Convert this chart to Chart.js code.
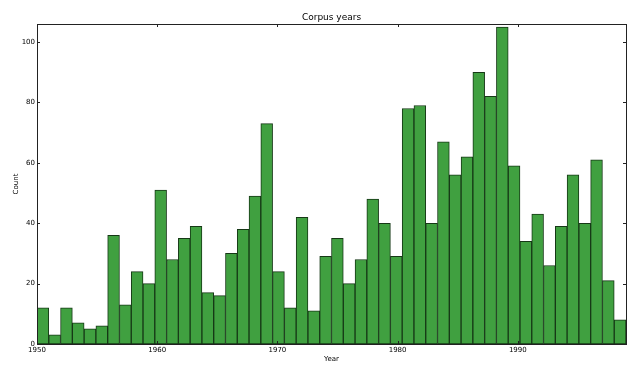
<!DOCTYPE html>
<html>
<head>
<meta charset="utf-8">
<script src="https://cdn.jsdelivr.net/npm/chart.js@4/dist/chart.umd.min.js"></script>
<style>
  html, body { margin: 0; padding: 0; background: #fff; }
  #wrap { width: 640px; height: 377px; }
</style>
</head>
<body>
<div id="wrap"><canvas id="chart"></canvas></div>
<script>
// Histograma: 50 intervalos entre 1950 y 1999
const binStart = 1950;
const binEnd = 1999;
const counts = [12, 3, 12, 7, 5, 6, 36, 13, 24, 20,
                51, 28, 35, 39, 17, 16, 30, 38, 49, 73,
                24, 12, 42, 11, 29, 35, 20, 28, 48, 40,
                29, 78, 79, 40, 67, 56, 62, 90, 82, 105,
                59, 34, 43, 26, 39, 56, 40, 61, 21, 8];
const xTicks = [1950, 1960, 1970, 1980, 1990];
const yTicks = [0, 20, 40, 60, 80, 100];

// ancho de cada intervalo
const binWidth = (binEnd - binStart) / counts.length;
const points = counts.map((c, i) => ({ x: binStart + binWidth * (i + 0.5), y: c }));

const font = "DejaVu Sans";

// Marcas hacia dentro en los cuatro lados, el marco y el título
const framePlugin = {
  id: 'frame',
  afterDraw(chart) {
    const ctx = chart.ctx;
    const a = chart.chartArea;
    const xs = chart.scales.x, ys = chart.scales.y;
    ctx.save();
    ctx.strokeStyle = '#222';
    ctx.lineWidth = 1;
    ctx.beginPath();
    xTicks.forEach(v => {
      const px = Math.round(xs.getPixelForValue(v)) + 0.5;
      ctx.moveTo(px, a.bottom); ctx.lineTo(px, a.bottom - 3);
      ctx.moveTo(px, a.top); ctx.lineTo(px, a.top + 3);
    });
    yTicks.forEach(v => {
      const py = Math.round(ys.getPixelForValue(v)) + 0.5;
      ctx.moveTo(a.left, py); ctx.lineTo(a.left + 3, py);
      ctx.moveTo(a.right, py); ctx.lineTo(a.right - 3, py);
    });
    ctx.stroke();
    ctx.strokeRect(Math.round(a.left) + 0.5, Math.round(a.top) + 0.5,
                   Math.round(a.right - a.left), Math.round(a.bottom - a.top));
    ctx.fillStyle = '#000';
    ctx.font = '9px "' + font + '"';
    ctx.textAlign = 'center';
    ctx.textBaseline = 'middle';
    ctx.fillText('Corpus years', (a.left + a.right) / 2, 18);
    ctx.restore();
  }
};

const ctx = document.getElementById('chart').getContext('2d');
new Chart(ctx, {
  type: 'bar',
  data: {
    datasets: [{
      data: points,
      backgroundColor: '#40a040',
      borderColor: '#163816',
      borderWidth: 1,
      borderSkipped: false,
      barPercentage: 1,
      categoryPercentage: 1
    }]
  },
  options: {
    responsive: true,
    maintainAspectRatio: false,
    animation: false,
    layout: { padding: { top: 24, right: 14, left: 0, bottom: 0 } },
    plugins: { legend: { display: false }, tooltip: { enabled: false } },
    scales: {
      x: {
        type: 'linear',
        offset: false,
        min: binStart,
        max: binEnd,
        grid: { display: false, drawTicks: false },
        border: { display: false },
        afterBuildTicks: s => { s.ticks = xTicks.map(v => ({ value: v })); },
        afterFit: s => { s.height = 33; },
        ticks: { padding: 2, color: '#000', font: { family: font, size: 7 }, maxRotation: 0,
                 callback: v => String(v) },
        title: { display: true, text: 'Year', color: '#000', font: { family: font, size: 7 }, padding: { top: 0, bottom: 14 } }
      },
      y: {
        min: 0,
        max: 106,
        grid: { display: false, drawTicks: false },
        border: { display: false },
        afterBuildTicks: s => { s.ticks = yTicks.map(v => ({ value: v })); },
        afterFit: s => { s.width = 37; },
        ticks: { padding: 2, color: '#000', font: { family: font, size: 7 } },
        title: { display: true, text: 'Count', color: '#000', font: { family: font, size: 7 }, padding: { top: 12, bottom: 0 } }
      }
    }
  },
  plugins: [framePlugin]
});
</script>
</body>
</html>
